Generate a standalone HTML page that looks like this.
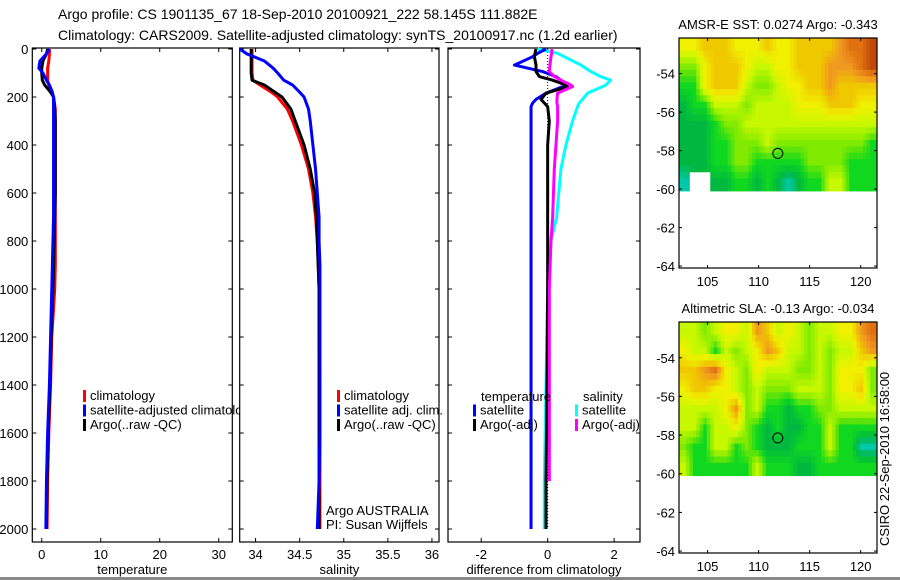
<!DOCTYPE html>
<html><head><meta charset="utf-8">
<style>
html,body{margin:0;padding:0;background:#fff;}
svg{display:block;font-family:"Liberation Sans",sans-serif;}
text{fill:#000;}
</style></head>
<body>
<svg id="fig" width="900" height="580" viewBox="0 0 900 580" xmlns="http://www.w3.org/2000/svg">
<rect x="0" y="0" width="900" height="580" fill="#fff"/>
<rect x="0" y="577" width="900" height="3" fill="#888"/>
<text x="58" y="19" font-size="14">Argo profile: CS 1901135_67 18-Sep-2010 20100921_222 58.145S 111.882E</text>
<text x="58" y="40" font-size="14">Climatology: CARS2009. Satellite-adjusted climatology: synTS_20100917.nc (1.2d earlier)</text>
<g id="layer"></g>
<text transform="translate(889,546) rotate(-90)" font-size="13">CSIRO 22-Sep-2010 16:58:00</text>
</svg>
<script>
// ---------- data ----------
const depths = [0,20,50,80,100,130,150,180,200,250,300,400,500,600,700,800,900,1000,1200,1400,1600,1800,2000];
const tempArgo = [1.0,0.8,0.2,0.0,0.0,0.1,0.5,1.5,2.0,2.2,2.3,2.3,2.3,2.3,2.2,2.1,2.0,1.9,1.6,1.4,1.1,0.9,0.8];
const tempClim = [1.3,1.3,1.2,1.0,1.0,1.0,1.2,1.7,2.0,2.3,2.3,2.3,2.3,2.3,2.3,2.3,2.3,2.2,1.7,1.5,1.2,1.0,0.9];
const tempSat  = [1.3,0.8,-0.3,-0.5,0.2,0.8,1.3,1.8,2.0,2.0,2.0,2.0,2.0,2.0,2.0,1.9,1.8,1.7,1.5,1.3,1.0,0.8,0.7];
const salArgo = [33.95,33.95,33.95,33.95,33.95,33.96,34.1,34.22,34.3,34.4,34.45,34.55,34.62,34.67,34.69,34.7,34.71,34.72,34.72,34.72,34.72,34.72,34.72];
const salClim = [33.96,33.96,33.96,33.96,33.96,33.97,34.05,34.18,34.25,34.36,34.42,34.52,34.6,34.65,34.68,34.7,34.71,34.72,34.72,34.73,34.73,34.73,34.73];
const salSat  = [33.82,33.9,34.1,34.2,34.25,34.32,34.42,34.5,34.55,34.6,34.62,34.65,34.68,34.7,34.72,34.72,34.73,34.73,34.73,34.73,34.73,34.72,34.7];
const diffDepths = [0,18,32,67,94,115,130,150,157,184,210,225,240,300,400,500,700,800,1000,1400,1800,2000];
const dTempSat  = [-0.05,-0.3,-0.45,-1.0,-0.15,0.25,0.4,0.5,0.45,-0.05,-0.35,-0.45,-0.5,-0.5,-0.5,-0.5,-0.5,-0.5,-0.5,-0.5,-0.5,-0.5];
const dTempArgo = [-0.35,-0.38,-0.4,-0.35,-0.35,-0.25,0.15,0.55,0.6,-0.05,-0.2,-0.1,0.0,0.05,0.0,0.0,0.0,0.0,0.0,-0.02,-0.05,-0.05];
const dSalSat   = [-0.3,0.3,0.5,1.0,1.3,1.6,1.9,1.75,1.65,1.2,1.05,0.95,0.9,0.75,0.55,0.4,0.27,0.1,0.0,-0.05,-0.1,-0.1];
const dSalArgo  = [0.13,0.12,0.1,0.07,0.05,0.2,0.4,0.7,0.75,0.3,0.28,0.28,0.3,0.3,0.25,0.2,0.15,0.1,0.05,0.05,0.05,null];
const tempTicks = [0,10,20,30];
const salTicks = [34,34.5,35,35.5,36];
const salTickLabels = ["34","34.5","35","35.5","36"];
const diffTicks = [-2,0,2];
const depthTicks = [0,200,400,600,800,1000,1200,1400,1600,1800,2000];
const lonTicks = [105,110,115,120];
const latTicks = [-54,-56,-58,-60,-62,-64];
const sstGrid = [
"5566655565566667889",
"3356665445566677789",
"2256664334556676666",
"1224443444455566655",
"1112334444444444444",
"1112233343333333332",
"1112233222223333222",
"0xx1122121012244222"];
const slaGrid = [
"4434554764543445578",
"5442434576443434467",
"6678543544433435553",
"5665543433344435563",
"4444573422122334444",
"4424453212112242222",
"3224423211122242200",
"4222222422211222222"];
const floatLon = 111.882, floatLat = -58.145;

// ---------- helpers ----------
const NS="http://www.w3.org/2000/svg";
const layer=document.getElementById('layer');
function mk(tag,attrs,parent){const e=document.createElementNS(NS,tag);for(const k in attrs)e.setAttribute(k,attrs[k]);(parent||layer).appendChild(e);return e;}
const dTop=49, dScale=0.24;
const yD = d => dTop + d*dScale;

function panel(name,x0,x1,y0,y1,xmin,xmax,ticks,labels,xlabel,showY){
  const xs=v=>x0+(v-xmin)/(xmax-xmin)*(x1-x0);
  const g=mk('g',{});
  
  
  const r=mk('rect',{x:x0,y:y0,width:x1-x0,height:y1-y0,fill:'none',stroke:'#000','stroke-width':1.2},g);
  
  
  ticks.forEach((t,i)=>{
    const x=xs(t);
    mk('line',{x1:x,x2:x,y1:y1,y2:y1-4,stroke:'#000'},g);
    mk('line',{x1:x,x2:x,y1:y0,y2:y0+4,stroke:'#000'},g);
    const tx=mk('text',{x:x,y:y1+17,'font-size':13,'text-anchor':'middle'},g);
    tx.textContent=labels[i];
    
    
  });
  depthTicks.forEach(d=>{
    const y=yD(d);
    mk('line',{x1:x0,x2:x0+4,y1:y,y2:y,stroke:'#000'},g);
    mk('line',{x1:x1,x2:x1-4,y1:y,y2:y,stroke:'#000'},g);
    if(showY){
      const tx=mk('text',{x:x0-4,y:y+5,'font-size':13,'text-anchor':'end'},g);
      tx.textContent=String(d);
      
      
    }
  });
  const xl=mk('text',{x:(x0+x1)/2,y:574,'font-size':13,'text-anchor':'middle'},g);
  xl.textContent=xlabel;
  
  
  return {xs,g};
}
function profile(p,ds,vals,color,name,w){
  let pts=[];
  for(let i=0;i<ds.length;i++){
    if(vals[i]===null)break;
    pts.push(p.xs(vals[i])+','+yD(ds[i]));
  }
  const l=mk('polyline',{points:pts.join(' '),fill:'none',stroke:color,'stroke-width':w||3,'stroke-linejoin':'round'},p.g);
  
  
}
function legend(g,x,y,items){
  items.forEach((it,i)=>{
    const yy=y+i*14.5;
    const m=mk('rect',{x:x,y:yy-10,width:3,height:12,fill:it[1]},g);
    
    
    const t=mk('text',{x:x+7,y:yy,'font-size':13},g);
    t.textContent=it[0];
    
    
  });
}

// ---------- temperature panel ----------
const pT=panel('temperature-panel',32.3,232.3,48,542,-1.6,32.3,tempTicks,tempTicks.map(String),'temperature',true);
profile(pT,depths,tempClim,'#ff0000','series-temp-climatology');
profile(pT,depths,tempArgo,'#000000','series-temp-argo');
profile(pT,depths,tempSat,'#0000ff','series-temp-satellite');
const clipT=mk('clipPath',{id:'clipT'});mk('rect',{x:32,y:40,width:208,height:520},clipT);
const lgT=mk('g',{'clip-path':'url(#clipT)'},pT.g);
legend(lgT,83,400,[['climatology','#ff0000'],['satellite-adjusted climatology','#0000ff'],['Argo(..raw -QC)','#000000']]);

// ---------- salinity panel ----------
const pS=panel('salinity-panel',239.7,439,48,542,33.82,36.08,salTicks,salTickLabels,'salinity',false);
profile(pS,depths,salClim,'#ff0000','series-sal-climatology');
profile(pS,depths,salArgo,'#000000','series-sal-argo');
profile(pS,depths,salSat,'#0000ff','series-sal-satellite');
legend(pS.g,337,400,[['climatology','#ff0000'],['satellite adj. clim.','#0000ff'],['Argo(..raw -QC)','#000000']]);
const a1=mk('text',{x:326,y:515,'font-size':13},pS.g);a1.textContent='Argo AUSTRALIA';


const a2=mk('text',{x:326,y:529,'font-size':13},pS.g);a2.textContent='PI: Susan Wijffels';



// ---------- difference panel ----------
const pD=panel('difference-panel',448,640,48,542,-3.0,2.78,diffTicks,diffTicks.map(String),'difference from climatology',false);
mk('line',{x1:pD.xs(0),x2:pD.xs(0),y1:yD(0),y2:yD(2000),stroke:'#000','stroke-dasharray':'1,2'},pD.g);
profile(pD,diffDepths,dSalSat,'#00ffff','series-diff-sal-satellite');
profile(pD,diffDepths,dTempSat,'#0000ff','series-diff-temp-satellite');
profile(pD,diffDepths,dTempArgo,'#000000','series-diff-temp-argo');
profile(pD,diffDepths,dSalArgo,'#ff00ff','series-diff-sal-argo');
const th=mk('text',{x:481,y:401,'font-size':13},pD.g);th.textContent='temperature';


const sh=mk('text',{x:583,y:401,'font-size':13},pD.g);sh.textContent='salinity';


legend(pD.g,473,414.5,[['satellite','#0000ff'],['Argo(-adj)','#000000']]);
legend(pD.g,575,414.5,[['satellite','#00ffff'],['Argo(-adj)','#ff00ff']]);

// ---------- maps ----------
const cmap=[[0,200,168],[0,184,64],[16,216,32],[128,234,0],[200,248,0],[240,240,0],[240,200,0],[240,152,32],[224,112,16],[192,72,8]];
function colorAt(v){
  v=Math.max(0,Math.min(9,v));const i=Math.min(8,Math.floor(v)),f=v-i;
  const a=cmap[i],b=cmap[i+1];
  return 'rgb('+a.map((c,k)=>Math.round(c+(b[k]-c)*f)).join(',')+')';
}
function mapPanel(name,title,grid,x0,x1,y0,y1){
  const lonMin=102.2,lonMax=121.6,latTop=-52.15,latBot=-64.1;
  const xs=v=>x0+(v-lonMin)/(lonMax-lonMin)*(x1-x0);
  const ys=v=>y0+(latTop-v)/(latTop-latBot)*(y1-y0);
  const g=mk('g',{});
  
  
  const nr=grid.length,nc=grid[0].length;
  const val=(r,c)=>{r=Math.max(0,Math.min(nr-1,r));c=Math.max(0,Math.min(nc-1,c));const ch=grid[r][c];return ch==='x'?null:+ch;};
  const latEnd=-60.1, dLat=(latTop-latEnd)/nr, dLon=(lonMax-lonMin)/nc;
  const S=3;
  for(let r=0;r<nr*S;r++)for(let c=0;c<nc*S;c++){
    const R=Math.floor(r/S),C=Math.floor(c/S);
    if(val(R,C)===null)continue;
    // bilinear interpolation of data at sub-cell centre
    const fr=(r+0.5)/S-0.5, fc=(c+0.5)/S-0.5;
    const r0=Math.floor(fr),c0=Math.floor(fc),tr=fr-r0,tc=fc-c0;
    let s=0,w=0;
    [[r0,c0,(1-tr)*(1-tc)],[r0,c0+1,(1-tr)*tc],[r0+1,c0,tr*(1-tc)],[r0+1,c0+1,tr*tc]].forEach(q=>{const v=val(q[0],q[1]);if(v!==null){s+=v*q[2];w+=q[2];}});
    const v=w>0?s/w:val(R,C);
    const xa=xs(lonMin+c*dLon/S),xb=xs(lonMin+(c+1)*dLon/S);
    const ya=ys(latTop-r*dLat/S),yb=ys(latTop-(r+1)*dLat/S);
    const cell=mk('rect',{x:xa,y:ya,width:xb-xa+0.4,height:yb-ya+0.4,fill:colorAt(v)},g);
    
    
  }
  const fr=mk('rect',{x:x0,y:y0,width:x1-x0,height:y1-y0,fill:'none',stroke:'#000','stroke-width':1.2},g);
  
  
  lonTicks.forEach(t=>{const x=xs(t);
    mk('line',{x1:x,x2:x,y1:y1,y2:y1-3,stroke:'#000'},g);
    mk('line',{x1:x,x2:x,y1:y0,y2:y0+3,stroke:'#000'},g);
    const tx=mk('text',{x:x,y:y1+18,'font-size':13,'text-anchor':'middle'},g);tx.textContent=String(t);
    
    });
  latTicks.forEach(t=>{const y=ys(t);
    mk('line',{x1:x0,x2:x0+3,y1:y,y2:y,stroke:'#000'},g);
    mk('line',{x1:x1,x2:x1-3,y1:y,y2:y,stroke:'#000'},g);
    const tx=mk('text',{x:x0-4,y:y+5,'font-size':13,'text-anchor':'end'},g);tx.textContent=String(t);
    
    });
  const ci=mk('circle',{cx:xs(floatLon),cy:ys(floatLat),r:5,fill:'none',stroke:'#000','stroke-width':1},g);
  
  
  const tt=mk('text',{x:(x0+x1)/2,y:y0-9,'font-size':13,'text-anchor':'middle'},g);tt.textContent=title;
  
  
}
mapPanel('sst-map','AMSR-E SST: 0.0274 Argo: -0.343',sstGrid,679,877,38,268);
mapPanel('sla-map','Altimetric SLA: -0.13 Argo: -0.034',slaGrid,679,877,322,553);
</script>
</body></html>
